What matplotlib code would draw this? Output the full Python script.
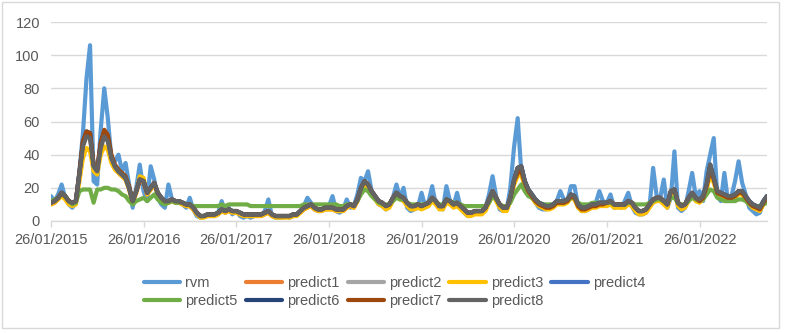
import matplotlib
matplotlib.use('Agg')
import matplotlib.pyplot as plt
from matplotlib.patches import Rectangle
import pandas as pd

plt.rcParams['font.family'] = ['Liberation Sans', 'DejaVu Sans']

# ---------------- data (14-day steps from 26/01 each year) ----------------
years = [2015, 2016, 2017, 2018, 2019, 2020, 2021, 2022]
points_per_year = [26, 26, 26, 26, 26, 26, 26, 20]

rvm = [
    15, 12, 16, 22, 14, 10, 8, 11, 30, 53, 86, 106, 24, 22, 55, 80, 62, 38, 36, 40, 30, 35, 22, 8, 20, 34,
    18, 12, 33, 25, 14, 10, 8, 22, 13, 11, 12, 10, 8, 14, 7, 3, 2, 3, 3, 4, 3, 5, 12, 5, 8, 4,
    6, 3, 2, 3, 2, 3, 4, 3, 6, 13, 3, 2, 2, 2, 3, 2, 3, 4, 6, 9, 14, 11, 7, 6, 7, 9,
    9, 15, 6, 5, 7, 13, 8, 9, 16, 26, 24, 30, 18, 14, 10, 9, 7, 9, 14, 22, 14, 20, 8, 6, 7, 8,
    17, 9, 12, 21, 10, 8, 7, 21, 12, 9, 17, 8, 5, 3, 4, 5, 6, 5, 8, 16, 27, 15, 7, 6, 7, 20,
    45, 62, 30, 20, 18, 16, 11, 8, 7, 7, 8, 9, 12, 18, 13, 12, 21, 21, 9, 6, 6, 7, 9, 11, 18, 12,
    11, 16, 8, 9, 8, 12, 17, 9, 5, 4, 4, 5, 9, 32, 15, 14, 25, 8, 14, 42, 8, 6, 8, 18, 29, 15,
    18, 12, 30, 40, 50, 15, 12, 29, 12, 15, 24, 36, 23, 16, 8, 6, 4, 5, 12, 15,
]

predict1 = [
    10, 11, 13, 16, 14, 11, 10, 11, 27, 46, 52, 51, 32, 29, 45, 52, 49, 37, 32, 29, 27, 25, 19, 11, 17, 24,
    23, 16, 19, 22, 16, 13, 11, 11, 12, 11, 11, 10, 9, 9, 7, 4, 3, 3, 3, 3, 3, 4, 6, 5, 6, 5,
    5, 4, 3, 3, 3, 3, 3, 3, 4, 5, 3, 3, 3, 3, 3, 3, 3, 4, 5, 7, 8, 9, 7, 6, 6, 7,
    7, 7, 6, 6, 6, 8, 9, 8, 12, 19, 23, 21, 17, 14, 11, 10, 8, 9, 13, 16, 14, 13, 10, 8, 8, 9,
    8, 9, 10, 13, 11, 8, 8, 12, 11, 9, 10, 8, 6, 4, 4, 5, 5, 5, 7, 12, 17, 13, 9, 7, 7, 13,
    24, 30, 31, 23, 18, 15, 12, 10, 9, 8, 8, 9, 11, 11, 11, 12, 15, 14, 9, 7, 7, 8, 9, 9, 10, 10,
    10, 11, 9, 9, 9, 9, 11, 10, 7, 5, 5, 6, 9, 12, 13, 13, 11, 9, 17, 18, 10, 8, 9, 13, 16, 13,
    12, 14, 21, 32, 25, 17, 16, 15, 14, 14, 15, 17, 17, 14, 11, 9, 8, 7, 11, 14,
]

predict2 = [
    11, 12, 14, 17, 15, 12, 11, 12, 28, 46, 52, 51, 33, 30, 45, 52, 49, 38, 33, 30, 28, 26, 20, 12, 18, 25,
    24, 17, 20, 23, 17, 14, 12, 12, 13, 12, 12, 11, 10, 10, 8, 5, 3, 3, 4, 4, 4, 5, 7, 6, 7, 6,
    6, 5, 4, 4, 4, 4, 4, 4, 5, 6, 4, 3, 3, 3, 3, 3, 4, 4, 6, 8, 9, 10, 8, 7, 7, 8,
    8, 8, 7, 7, 7, 9, 10, 9, 13, 20, 24, 22, 18, 15, 12, 11, 9, 10, 14, 17, 15, 14, 11, 9, 9, 10,
    9, 10, 11, 14, 12, 9, 9, 13, 12, 10, 11, 9, 7, 5, 5, 6, 6, 6, 8, 13, 18, 14, 10, 8, 8, 14,
    25, 32, 33, 24, 19, 16, 13, 11, 10, 9, 9, 10, 12, 12, 12, 13, 16, 15, 10, 8, 8, 9, 10, 10, 11, 11,
    11, 12, 10, 10, 10, 10, 12, 11, 8, 6, 6, 7, 10, 13, 14, 14, 12, 10, 18, 19, 11, 9, 10, 14, 17, 14,
    13, 15, 22, 34, 26, 18, 17, 16, 15, 15, 16, 18, 18, 15, 12, 10, 9, 8, 12, 15,
]

predict3 = [
    10, 11, 13, 15, 13, 10, 9, 10, 24, 38, 44, 42, 30, 28, 40, 45, 43, 35, 31, 29, 27, 25, 19, 11, 17, 27,
    26, 16, 19, 22, 16, 13, 11, 11, 12, 11, 11, 10, 9, 9, 7, 4, 2, 2, 3, 3, 3, 4, 6, 5, 6, 5,
    5, 4, 3, 3, 3, 3, 3, 3, 4, 5, 3, 2, 2, 2, 2, 2, 3, 3, 5, 7, 8, 9, 7, 6, 6, 7,
    7, 7, 6, 6, 6, 8, 9, 8, 12, 18, 22, 20, 16, 13, 10, 9, 7, 8, 12, 15, 13, 12, 9, 7, 7, 8,
    7, 8, 9, 12, 10, 7, 7, 11, 10, 8, 9, 7, 5, 3, 3, 4, 4, 4, 6, 11, 16, 12, 8, 6, 6, 12,
    22, 27, 28, 21, 17, 14, 11, 9, 8, 7, 7, 8, 10, 10, 10, 11, 14, 13, 8, 6, 6, 7, 8, 8, 9, 9,
    9, 10, 8, 8, 8, 8, 10, 9, 6, 4, 4, 5, 8, 11, 12, 12, 10, 8, 16, 17, 9, 7, 8, 12, 15, 12,
    11, 13, 19, 28, 23, 16, 15, 14, 13, 13, 14, 16, 16, 13, 10, 8, 7, 6, 10, 13,
]

predict4 = [
    11, 12, 14, 17, 15, 12, 11, 12, 29, 47, 53, 52, 33, 30, 46, 53, 50, 38, 33, 30, 28, 26, 20, 12, 18, 25,
    24, 17, 20, 23, 17, 14, 12, 12, 13, 12, 12, 11, 10, 10, 8, 5, 3, 3, 4, 4, 4, 5, 7, 6, 7, 6,
    6, 5, 4, 4, 4, 4, 4, 4, 5, 6, 4, 3, 3, 3, 3, 3, 4, 4, 6, 8, 9, 10, 8, 7, 7, 8,
    8, 8, 7, 7, 7, 9, 10, 9, 13, 20, 24, 22, 18, 15, 12, 11, 9, 10, 14, 17, 15, 14, 11, 9, 9, 10,
    9, 10, 11, 14, 12, 9, 9, 13, 12, 10, 11, 9, 7, 5, 5, 6, 6, 6, 8, 13, 18, 14, 10, 8, 8, 14,
    25, 32, 33, 24, 19, 16, 13, 11, 10, 9, 9, 10, 12, 12, 12, 13, 16, 15, 10, 8, 8, 9, 10, 10, 11, 11,
    11, 12, 10, 10, 10, 10, 12, 11, 8, 6, 6, 7, 10, 13, 14, 14, 12, 10, 18, 19, 11, 9, 10, 14, 17, 14,
    13, 15, 22, 34, 26, 18, 17, 16, 15, 15, 16, 18, 18, 15, 12, 10, 9, 8, 12, 15,
]

predict5 = [
    12, 13, 14, 16, 15, 12, 10, 11, 18, 19, 19, 19, 11, 19, 19, 20, 20, 19, 19, 18, 16, 15, 12, 10, 12, 13,
    14, 12, 14, 16, 13, 11, 10, 11, 12, 11, 11, 11, 10, 10, 9, 9, 9, 9, 9, 9, 9, 9, 10, 9, 10, 10,
    10, 10, 10, 10, 9, 9, 9, 9, 9, 9, 9, 9, 9, 9, 9, 9, 9, 9, 9, 10, 10, 10, 10, 10, 10, 10,
    10, 10, 10, 9, 9, 10, 10, 10, 12, 16, 19, 18, 15, 13, 11, 10, 10, 10, 12, 14, 13, 13, 11, 10, 10, 10,
    10, 10, 11, 13, 12, 10, 10, 13, 12, 11, 11, 10, 9, 9, 9, 9, 9, 9, 9, 11, 15, 13, 10, 9, 9, 11,
    16, 19, 22, 18, 15, 14, 12, 11, 10, 10, 10, 10, 11, 11, 11, 12, 14, 14, 11, 10, 10, 10, 11, 11, 11, 11,
    11, 11, 10, 10, 10, 10, 11, 11, 10, 10, 10, 10, 11, 12, 13, 13, 12, 11, 14, 14, 11, 10, 10, 12, 14, 13,
    12, 13, 16, 19, 18, 14, 13, 12, 12, 12, 12, 13, 13, 12, 10, 9, 9, 9, 10, 11,
]

predict6 = [
    11, 12, 14, 17, 15, 12, 11, 12, 29, 48, 54, 53, 34, 31, 47, 54, 51, 39, 33, 30, 28, 26, 20, 12, 18, 25,
    24, 17, 20, 23, 17, 14, 12, 12, 13, 12, 12, 11, 10, 10, 8, 5, 3, 3, 4, 4, 4, 5, 7, 6, 7, 6,
    6, 5, 4, 4, 4, 4, 4, 4, 5, 6, 4, 3, 3, 3, 3, 3, 4, 4, 6, 8, 9, 10, 8, 7, 7, 8,
    8, 8, 7, 7, 7, 9, 10, 9, 13, 20, 24, 22, 18, 15, 12, 11, 9, 10, 14, 17, 15, 14, 11, 9, 9, 10,
    9, 10, 11, 14, 12, 9, 9, 13, 12, 10, 11, 9, 7, 5, 5, 6, 6, 6, 8, 13, 18, 14, 10, 8, 8, 14,
    25, 32, 33, 24, 19, 16, 13, 11, 10, 9, 9, 10, 12, 12, 12, 13, 16, 15, 10, 8, 8, 9, 10, 10, 11, 11,
    11, 12, 10, 10, 10, 10, 12, 11, 8, 6, 6, 7, 10, 13, 14, 14, 12, 10, 18, 19, 11, 9, 10, 14, 17, 14,
    13, 15, 22, 34, 26, 18, 17, 16, 15, 15, 16, 18, 18, 15, 12, 10, 9, 8, 12, 15,
]

predict7 = [
    11, 12, 14, 17, 15, 12, 11, 12, 29, 48, 54, 53, 34, 31, 47, 55, 52, 40, 34, 31, 29, 27, 21, 12, 18, 25,
    24, 17, 20, 23, 17, 14, 12, 12, 13, 12, 12, 11, 10, 10, 8, 5, 3, 3, 4, 4, 4, 5, 7, 6, 7, 6,
    6, 5, 4, 4, 4, 4, 4, 4, 5, 6, 4, 3, 3, 3, 3, 3, 4, 4, 6, 8, 9, 10, 8, 7, 7, 8,
    8, 8, 7, 7, 7, 9, 10, 9, 13, 20, 24, 22, 18, 15, 12, 11, 9, 10, 14, 17, 15, 14, 11, 9, 9, 10,
    9, 10, 11, 14, 12, 9, 9, 13, 12, 10, 11, 9, 7, 5, 5, 6, 6, 6, 8, 13, 18, 14, 10, 8, 8, 14,
    24, 29, 30, 23, 18, 15, 12, 10, 9, 8, 8, 9, 11, 11, 11, 12, 15, 14, 9, 7, 7, 8, 9, 9, 10, 10,
    11, 12, 10, 10, 10, 10, 12, 11, 8, 6, 6, 7, 10, 13, 14, 14, 12, 10, 18, 19, 11, 9, 10, 14, 17, 14,
    12, 14, 21, 31, 25, 17, 16, 15, 14, 14, 15, 17, 17, 14, 11, 9, 8, 7, 11, 14,
]

predict8 = [
    11, 12, 14, 17, 15, 12, 11, 12, 28, 45, 51, 50, 33, 30, 44, 51, 48, 38, 33, 30, 28, 26, 20, 12, 18, 25,
    24, 17, 20, 23, 17, 14, 12, 12, 13, 12, 12, 11, 10, 10, 8, 5, 3, 3, 4, 4, 4, 5, 7, 6, 7, 6,
    6, 5, 4, 4, 4, 4, 4, 4, 5, 6, 4, 3, 3, 3, 3, 3, 4, 4, 6, 8, 9, 10, 8, 7, 7, 8,
    8, 8, 7, 7, 7, 9, 10, 9, 13, 20, 24, 22, 18, 15, 12, 11, 9, 10, 14, 17, 15, 14, 11, 9, 9, 10,
    9, 10, 11, 14, 12, 9, 9, 13, 12, 10, 11, 9, 7, 5, 5, 6, 6, 6, 8, 13, 18, 14, 10, 8, 8, 14,
    25, 32, 33, 24, 19, 16, 13, 11, 10, 9, 9, 10, 12, 12, 12, 13, 16, 15, 10, 8, 8, 9, 10, 10, 11, 11,
    11, 12, 10, 10, 10, 10, 12, 11, 8, 6, 6, 7, 10, 13, 14, 14, 12, 10, 18, 19, 11, 9, 10, 14, 17, 14,
    13, 15, 22, 34, 26, 18, 17, 16, 15, 15, 16, 18, 18, 15, 12, 10, 9, 8, 12, 15,
]

series_names = ['rvm', 'predict1', 'predict2', 'predict3', 'predict4',
                'predict5', 'predict6', 'predict7', 'predict8']
series_values = [rvm, predict1, predict2, predict3, predict4,
                 predict5, predict6, predict7, predict8]
colors = ['#5B9BD5', '#ED7D31', '#A5A5A5', '#FFC000', '#4472C4',
          '#70AD47', '#264478', '#9E480E', '#636363']

y_ticks = [0, 20, 40, 60, 80, 100, 120]
tick_dates = [pd.Timestamp(f'{y}-01-26') for y in years]
tick_labels = [d.strftime('%d/%m/%Y') for d in tick_dates]

# ---------------- dates ----------------
dates = []
for y, n in zip(years, points_per_year):
    start = pd.Timestamp(f'{y}-01-26')
    dates += [start + pd.Timedelta(days=14 * k) for k in range(n)]

# ---------------- figure ----------------
W, H = 789, 333
fig = plt.figure(figsize=(W / 100, H / 100), dpi=100)
fig.patch.set_facecolor('white')
ax = fig.add_axes([51 / W, (H - 221) / H, 716 / W, 199 / H])

lines = {}
for name, vals, c in zip(series_names, series_values, colors):
    ln, = ax.plot(dates, vals, color=c, lw=3.0, label=name,
                  solid_joinstyle='round', solid_capstyle='round')
    lines[name] = ln

ax.set_ylim(0, 120)
ax.set_yticks(y_ticks)
ax.set_xlim(dates[0], dates[-1])
ax.set_xticks(tick_dates)
ax.set_xticklabels(tick_labels)

ax.yaxis.grid(True, color='#d9d9d9', lw=1)
ax.set_axisbelow(True)
for s in ['top', 'right', 'left']:
    ax.spines[s].set_visible(False)
ax.spines['bottom'].set_color('#d9d9d9')
ax.spines['bottom'].set_linewidth(1)
ax.spines['bottom'].set_zorder(0.5)

ax.tick_params(axis='x', length=4, width=1, color='#d9d9d9', labelcolor='#595959',
               labelsize=10.5, pad=5)
ax.tick_params(axis='y', length=0, labelcolor='#595959', labelsize=10.5, pad=8)

order = ['rvm', 'predict5', 'predict1', 'predict6', 'predict2', 'predict7',
         'predict3', 'predict8', 'predict4']
fig.legend([lines[n] for n in order], order, loc='center',
           bbox_to_anchor=(394.5 / W, 1 - 292 / H), ncol=5, frameon=False,
           fontsize=10.5, labelcolor='#595959', handlelength=2.5,
           handletextpad=0.35, columnspacing=0.55, labelspacing=0.3)

fig.patches.append(Rectangle((2 / W, 5 / H), 777 / W, 326 / H, transform=fig.transFigure,
                             fill=False, edgecolor='#d9d9d9', lw=1))

fig.savefig('out.png', dpi=100)
